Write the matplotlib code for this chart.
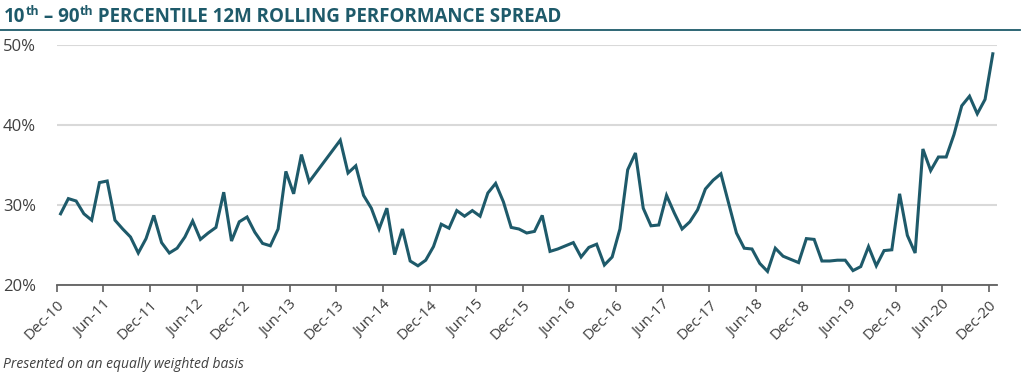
import matplotlib
matplotlib.use("Agg")
import matplotlib.pyplot as plt
import numpy as np

# ---- data ----
spread = [
    28.9, 30.8, 30.5, 28.9, 28.1, 32.8, 33.0, 28.1, 27.0, 26.0,
    24.0, 25.8, 28.7, 25.3, 24.0, 24.6, 26.0, 28.0, 25.7, 26.5,
    27.2, 31.6, 25.5, 27.9, 28.5, 26.6, 25.2, 24.9, 27.0, 34.2,
    31.4, 36.3, 32.9, 34.2, 35.5, 36.8, 38.1, 34.0, 34.9, 31.2,
    29.6, 27.0, 29.6, 23.8, 27.0, 23.0, 22.4, 23.1, 24.8, 27.6,
    27.1, 29.3, 28.6, 29.3, 28.6, 31.5, 32.7, 30.4, 27.2, 27.0,
    26.5, 26.7, 28.7, 24.2, 24.5, 24.9, 25.3, 23.5, 24.7, 25.1,
    22.5, 23.5, 27.0, 34.4, 36.5, 29.6, 27.4, 27.5, 31.2, 29.0,
    27.0, 27.9, 29.4, 32.0, 33.1, 33.9, 30.2, 26.5, 24.6, 24.5,
    22.7, 21.7, 24.6, 23.6, 23.2, 22.8, 25.8, 25.7, 23.0, 23.0,
    23.1, 23.1, 21.8, 22.3, 24.8, 22.4, 24.3, 24.4, 31.4, 26.2,
    24.0, 37.0, 34.3, 36.0, 36.0, 38.8, 42.4, 43.6, 41.4, 43.2,
    48.9,
]
tick_labels = ["Dec-10", "Jun-11", "Dec-11", "Jun-12", "Dec-12", "Jun-13", "Dec-13",
               "Jun-14", "Dec-14", "Jun-15", "Dec-15", "Jun-16", "Dec-16", "Jun-17",
               "Dec-17", "Jun-18", "Dec-18", "Jun-19", "Dec-19", "Jun-20", "Dec-20"]
y_ticks = [20, 30, 40, 50]

TEAL = "#1e5a6a"
GRID = "#d9d9d9"
TXT = "#404040"

plt.rcParams['font.family'] = ['Open Sans', 'DejaVu Sans']

fig = plt.figure(figsize=(10.24, 3.78), dpi=100)
ax = fig.add_axes([56.7/1024, 1 - 285/378, (996.7-56.7)/1024, (285-45)/378])

x = np.arange(len(spread))
ax.plot(x, spread, color=TEAL, lw=2.2, solid_joinstyle='miter', zorder=3)

ax.set_xlim(-0.5, len(spread) - 0.5)
ax.set_ylim(20, 50)
ax.set_yticks(y_ticks)
ax.set_yticklabels([f"{v}%" for v in y_ticks])
ax.set_xticks([6*k - 0.5 for k in range(len(tick_labels))])
ax.set_xticklabels(tick_labels, rotation=45, ha='right', va='top', rotation_mode='anchor')

ax.grid(axis='y', color=GRID, lw=1.5, zorder=0)
ax.set_axisbelow(True)
for s in ['top', 'right', 'left']:
    ax.spines[s].set_visible(False)
ax.spines['bottom'].set_color('#606060')
ax.spines['bottom'].set_linewidth(1.3)
ax.tick_params(axis='y', length=0, labelsize=12, labelcolor=TXT, pad=15)
ax.tick_params(axis='x', length=5, width=1.2, color='#606060', labelsize=11,
               labelcolor=TXT, pad=4)

# title rule
fig.add_artist(plt.Line2D([0, 1020/1024], [1 - 30/378]*2, color=TEAL, lw=1.3,
                          transform=fig.transFigure))

# title with superscripts
fig.canvas.draw()
renderer = fig.canvas.get_renderer()
parts = [("10", False), ("th", True), (" \u2013 90", False), ("th", True),
         (" PERCENTILE 12M ROLLING PERFORMANCE SPREAD", False)]
xpx = 4
ybase = 378 - 22
for txt, sup in parts:
    t = fig.text(xpx/1024, (ybase + (7 if sup else 0))/378, txt,
                 fontsize=9 if sup else 13.5, fontweight='bold', color=TEAL,
                 ha='left', va='baseline')
    bb = t.get_window_extent(renderer)
    xpx = bb.x1

fig.text(3/1024, 1 - 368/378, "Presented on an equally weighted basis",
         fontsize=10, style='italic', color=TXT, ha='left', va='baseline')

fig.savefig("out.png", dpi=100)
